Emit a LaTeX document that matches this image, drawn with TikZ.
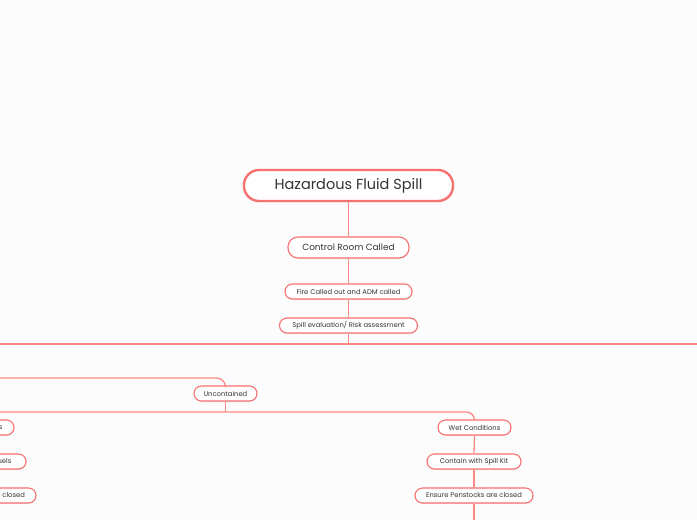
\documentclass[tikz,border=0pt]{standalone}
\usepackage{fontspec}
\setmainfont{Poppins}
\usetikzlibrary{shadows}
\definecolor{bg}{HTML}{FCFCFC}
\definecolor{edge}{HTML}{F87171}
\definecolor{conn}{HTML}{FF8A85}
\definecolor{txt}{HTML}{333333}
\tikzset{
  x=1pt,y=-1pt,
  boxbase/.style={draw=edge, fill=white, text=txt, inner sep=0pt, align=center,
    drop shadow={shadow xshift=0.4pt, shadow yshift=-1pt, opacity=0.15}},
  rootbox/.style={boxbase, line width=2.4pt, rounded corners=15pt, minimum height=31pt,
    font=\fontsize{14.5}{16}\selectfont},
  midbox/.style={boxbase, line width=1.1pt, rounded corners=10pt, minimum height=21pt,
    font=\fontsize{8.9}{10}\selectfont},
  smallbox/.style={boxbase, line width=1.1pt, rounded corners=7.5pt, minimum height=15pt,
    font=\fontsize{6.8}{8}\selectfont},
  link/.style={draw=conn, line width=1.3pt},
}
\begin{document}
\begin{tikzpicture}
\useasboundingbox (0,0) rectangle (697,520);
\fill[bg] (0,0) rectangle (697,520);
\clip (0,0) rectangle (697,520);

% nodes
\node[rootbox, minimum width=209pt] (root) at (348.5,185.5) {Hazardous Fluid Spill};
\node[midbox, minimum width=121pt] (crc) at (348.5,247.5) {Control Room Called};
\node[smallbox, minimum width=127pt] (fire) at (348.5,291.5) {Fire Called out and ADM called};
\node[smallbox, minimum width=138pt] (spill) at (348.5,325.5) {Spill evaluation/ Risk assessment};
\node[smallbox, minimum width=63pt] (unc) at (225.5,393.5) {Uncontained};
\node[smallbox, minimum width=73pt] (wet) at (474.5,427.5) {Wet Conditions};
\node[smallbox, minimum width=94pt] (kit) at (474,461.5) {Contain with Spill Kit};
\node[smallbox, minimum width=118pt] (pen) at (474,495.5) {Ensure Penstocks are closed};
\node[smallbox, minimum width=73pt] (ldry) at (-22.5,427.5) {Dry Conditions};
\node[smallbox, minimum width=98pt] (lfuel) at (-23,461.5) {Contain spilled fuels};
\node[smallbox, minimum width=118pt] (lpen) at (-23,495.5) {Ensure Penstocks are closed};

% free ends
\coordinate (jL) at (-20,344);
\coordinate (jR) at (720,344);
\coordinate (js) at (348.5,344);
\coordinate (uL) at (-40,378);
\coordinate (ub) at (225.5,412);
\coordinate (pb) at (474,530);
\coordinate (lb) at (-23,530);

% connectors
\draw[link] (root.south) -- (crc.north);
\draw[link] (crc.south) -- (fire.north);
\draw[link] (fire.south) -- (spill.north);
\draw[link] (spill.south) -- (js);
\draw[link] (jL) -- (jR);
\draw[link, rounded corners=9pt] (uL) -| (unc.north);
\draw[link] (unc.south) -- (ub);
\draw[link, rounded corners=8pt] (ub) -| (wet.north);
\draw[link, rounded corners=8pt] (ub) -| (ldry.north);
\draw[link] (wet.south) -- (kit.north);
\draw[link] (kit.south) -- (pen.north);
\draw[link] (pen.south) -- (pb);
\draw[link] (ldry.south) -- (lfuel.north);
\draw[link] (lfuel.south) -- (lpen.north);
\draw[link] (lpen.south) -- (lb);
\end{tikzpicture}
\end{document}
